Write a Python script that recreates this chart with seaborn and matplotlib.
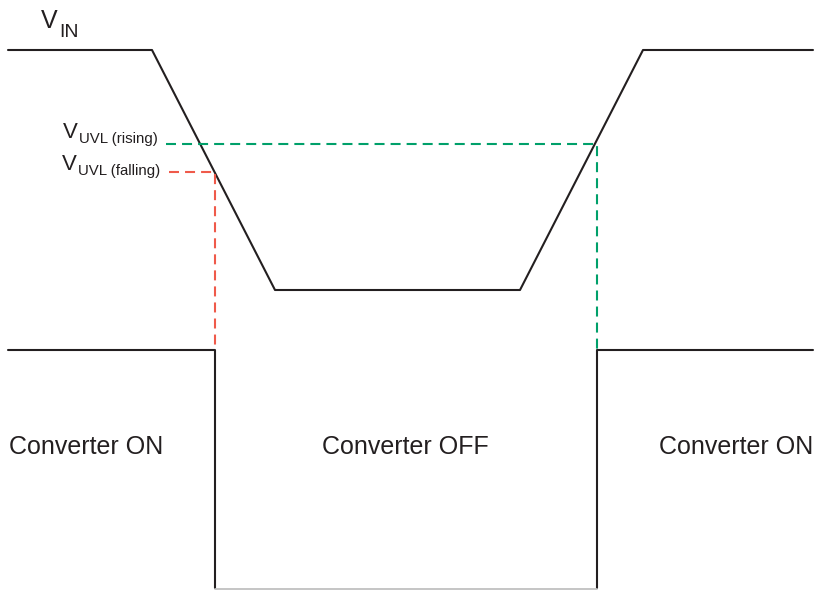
import matplotlib
matplotlib.use("Agg")
import matplotlib.pyplot as plt
import seaborn as sns

# waveform corner points (diagram units = pixels of the 816x590 canvas, y downwards)
vin_t = [8, 152, 275, 520, 643, 813]
vin_v = [50, 50, 290, 290, 50, 50]

out_left_t = [8, 215, 215]
out_left_v = [350, 350, 588]
out_right_t = [597, 597, 813]
out_right_v = [588, 350, 350]
out_base_t = [215, 597]
out_base_v = [589, 589]

rising_t = [166, 597, 597]
rising_v = [144, 144, 350]
falling_t = [169, 215, 215]
falling_v = [172, 172, 350]

state_labels = ["Converter ON", "Converter OFF", "Converter ON"]

INK = "#231f20"
GREEN = "#00a06a"
RED = "#ef5a4a"

sns.set_theme(style="white")
plt.rcParams['font.family'] = ['Liberation Sans', 'DejaVu Sans']

fig = plt.figure(figsize=(8.16, 5.9), dpi=100)
ax = fig.add_axes([0, 0, 1, 1])


def draw(t, v, **kw):
    sns.lineplot(x=t, y=v, sort=False, estimator=None, ax=ax, legend=False, **kw)


draw(vin_t, vin_v, color=INK, linewidth=1.5)
draw(out_left_t, out_left_v, color=INK, linewidth=1.5)
draw(out_right_t, out_right_v, color=INK, linewidth=1.5)
draw(out_base_t, out_base_v, color="#bbbbbb", linewidth=1.2)
draw(rising_t, rising_v, color=GREEN, linewidth=1.5)
draw(falling_t, falling_v, color=RED, linewidth=1.5)
for ln in ax.lines[-2:]:
    ln.set_dashes((4.8, 2.9))

# V_IN
ax.text(58, 28, "V", fontsize=18, color=INK, ha="right", va="baseline")
ax.text(59, 37, "IN", fontsize=14, color=INK, ha="left", va="baseline")
# threshold labels
ax.text(78, 138, "V", fontsize=16, color=INK, ha="right", va="baseline")
ax.text(79, 143, "UVL (rising)", fontsize=10.8, color=INK, ha="left", va="baseline")
ax.text(77, 170, "V", fontsize=16, color=INK, ha="right", va="baseline")
ax.text(78, 175, "UVL (falling)", fontsize=10.8, color=INK, ha="left", va="baseline")

ax.text(9, 454, state_labels[0], fontsize=18, color=INK, ha="left", va="baseline")
ax.text(405, 454, state_labels[1], fontsize=18, color=INK, ha="center", va="baseline")
ax.text(813, 454, state_labels[2], fontsize=18, color=INK, ha="right", va="baseline")

ax.set_xlim(0, 816)
ax.set_ylim(590, 0)
ax.set_axis_off()

fig.savefig("out.png", dpi=100)
